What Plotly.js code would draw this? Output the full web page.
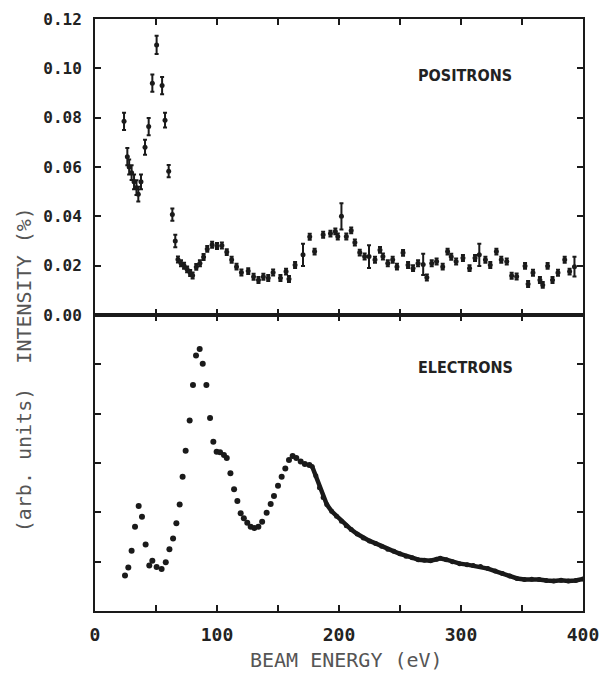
<!DOCTYPE html>
<html>
<head>
<meta charset="utf-8">
<script src="https://cdn.plot.ly/plotly-3.0.1.min.js"></script>
<style>html,body{margin:0;padding:0;background:#fff;}#chart{width:602px;height:677px;}</style>
</head>
<body>
<div id="chart"></div>
<script>
// ---- Positron intensity (%) vs beam energy (eV) ----
const posEnergy = [23.8,26.5,28,30,32,34,35.5,37.7,41,44,47,50.5,55,57.4,60.4,63.4,65.8,
  68,70.5,73,75.5,78,80,83,86,89,92,96,100,104,108,112,116,120,125.6,130,134,138,142,146,152,156.6,159,
  164,170.5,176,180,187,193,197,199,202,206,210,213,217,221,224.6,229.5,233.6,236,240,244,247.5,
  252.5,256.6,260.7,264.8,269,272,276,280,285,289,292,296,301.6,307,311.5,315,320,324,329,333,337.5,
  341.5,345.6,352.5,355,359,364.7,367,371,375,379.5,385,389,393];
const posIntensity = [0.0785,0.0642,0.0600,0.0577,0.0540,0.0516,0.0490,0.0540,0.0680,0.0764,0.0940,0.1095,0.0930,0.0790,0.0583,0.0407,0.0300,
  0.0225,0.0210,0.0200,0.0185,0.0170,0.0160,0.0195,0.0210,0.0235,0.0268,0.0285,0.0280,0.0282,0.0255,0.0224,0.0196,0.0172,0.0178,0.0155,0.0142,0.0155,0.0150,0.0172,0.0150,0.0176,0.0146,
  0.0203,0.0244,0.0317,0.0257,0.0325,0.0330,0.0339,0.0318,0.0400,0.0318,0.0343,0.0294,0.0253,0.0237,0.0237,0.0224,0.0264,0.0237,0.0210,0.0224,0.0196,
  0.0252,0.0203,0.0190,0.0210,0.0205,0.0152,0.0210,0.0217,0.0196,0.0257,0.0236,0.0217,0.0231,0.0190,0.0231,0.0244,0.0224,0.0203,0.0257,0.0224,0.0217,
  0.0159,0.0156,0.0199,0.0126,0.0171,0.0142,0.0122,0.0199,0.0142,0.0171,0.0224,0.0176,0.0196];
const posError = [0.0035,0.0035,0.003,0.003,0.003,0.003,0.003,0.003,0.003,0.0035,0.0035,0.0037,0.0035,0.003,0.0025,0.0025,0.0025,
  0.0012,0.0012,0.0012,0.0012,0.0012,0.0012,0.0012,0.0012,0.0012,0.0012,0.0012,0.0012,0.0012,0.0012,0.0012,0.0012,0.0012,0.0012,0.0012,0.0012,0.0012,0.0012,0.0012,0.0012,0.0012,0.0012,
  0.0012,0.0045,0.0012,0.0012,0.0012,0.0012,0.0012,0.0012,0.0053,0.0012,0.0012,0.0012,0.0012,0.0012,0.0046,0.0012,0.0012,0.0012,0.0012,0.0012,0.0012,
  0.0012,0.0012,0.0012,0.0012,0.0043,0.0012,0.0012,0.0012,0.0012,0.0012,0.0012,0.0012,0.0012,0.0012,0.0012,0.0045,0.0012,0.0012,0.0012,0.0012,0.0012,
  0.0012,0.0012,0.0012,0.0012,0.0012,0.0012,0.0012,0.0012,0.0012,0.0012,0.0012,0.0012,0.0040];

// ---- Electron intensity (arb. units): separated dots ----
const elecEnergy = [24.6,27.3,30,32.8,35.8,38.5,41.5,44.5,47,50.5,54.6,58,61,64,66.7,69.4,71.8,74.3,77.6,80.3,
  82.8,85.8,88.3,91.3,94.3,97,99.7,102.5,105.7,108,111,114,116.7,119.4,122,124.8,127.6,130.6,133.9,137,
  140.7,144,146.7,150,153,156,159,162,165,168.6,172,175.7];
const elecIntensity = [0.72,0.88,1.22,1.71,2.13,1.91,1.35,0.92,1.02,0.89,0.85,0.99,1.25,1.47,1.78,2.16,2.72,3.25,3.86,4.58,
  5.18,5.31,5.01,4.58,3.91,3.43,3.23,3.22,3.16,3.10,2.79,2.47,2.23,1.98,1.88,1.79,1.71,1.68,1.71,1.81,
  1.99,2.17,2.33,2.54,2.72,2.89,3.06,3.14,3.10,3.03,2.98,2.96];
// ---- Electron intensity: dense tail (points merge into a thick trace) ----
const elecTailEnergy = [178,181,184,187,190,194,198,202,206,210,215,220,225,230,235,240,245,250,255,260,265,270,275,280,283,
  288,293,299,305,310,316,322,328,334,340,346,352,358,364,370,376,382,388,394,400];
const elecTailIntensity = [2.93,2.74,2.50,2.30,2.16,2.02,1.92,1.82,1.73,1.65,1.56,1.48,1.42,1.37,1.31,1.25,1.21,1.16,1.11,1.08,1.04,1.03,1.02,1.05,1.07,
  1.04,1.00,0.96,0.94,0.92,0.90,0.86,0.81,0.76,0.71,0.66,0.64,0.645,0.64,0.62,0.61,0.625,0.61,0.62,0.65];

// ---- Ticks ----
const xTickVals = [0,50,100,150,200,250,300,350,400];
const xTickText = ['0','','100','','200','','300','','400'];
const yTickVals = [0,0.02,0.04,0.06,0.08,0.10,0.12];
const yTickText = ['0.00','0.02','0.04','0.06','0.08','0.10','0.12'];
const y2TickVals = [1,2,3,4,5];

const ink = '#1a1a1a';
const traces = [
  {x: posEnergy, y: posIntensity, xaxis:'x', yaxis:'y', type:'scatter', mode:'markers',
   marker:{size:5, color:ink},
   error_y:{type:'data', array: posError, visible:true, color:ink, thickness:2, width:2}},
  {x: elecEnergy, y: elecIntensity, xaxis:'x2', yaxis:'y2', type:'scatter', mode:'markers',
   marker:{size:6, color:ink}},
  {x: elecTailEnergy, y: elecTailIntensity, xaxis:'x2', yaxis:'y2', type:'scatter', mode:'lines+markers',
   line:{color:ink, width:4.5}, marker:{size:5, color:ink}}
];

const axBase = {showline:true, linewidth:2, linecolor:ink, mirror:'ticks', ticks:'inside', ticklen:6,
  tickwidth:2, tickcolor:ink, showgrid:false, zeroline:false, fixedrange:true};
const monoBold = {family:'DejaVu Sans Mono, monospace', size:16, color:'#222', weight:'bold'};
const labelFont = {family:'DejaVu Sans Condensed, DejaVu Sans, sans-serif', size:16, color:'#222', weight:'bold'};
const titleFont = {family:'DejaVu Sans Mono, monospace', size:20, color:'#555'};

const layout = {
  width:602, height:677,
  margin:{l:95, r:19, t:19, b:66},
  paper_bgcolor:'#fff', plot_bgcolor:'#fff',
  showlegend:false,
  xaxis: Object.assign({}, axBase, {domain:[0,1], anchor:'y', range:[0,400], tickmode:'array', tickvals:xTickVals, showticklabels:false}),
  yaxis: Object.assign({}, axBase, {domain:[0.5,1], anchor:'x', range:[0,0.12], tickmode:'array', tickvals:yTickVals, ticktext:yTickText,
    tickfont:monoBold, ticklabelstandoff:8}),
  xaxis2: Object.assign({}, axBase, {domain:[0,1], anchor:'y2', range:[0,400], tickmode:'array', tickvals:xTickVals, ticktext:xTickText,
    tickfont:Object.assign({}, monoBold, {size:18}), ticklabelstandoff:6}),
  yaxis2: Object.assign({}, axBase, {domain:[0,0.5], anchor:'x2', range:[0,6], tickmode:'array', tickvals:y2TickVals, showticklabels:false}),
  annotations:[
    {text:'POSITRONS', xref:'paper', yref:'paper', x:0.758, y:0.905, xanchor:'center', yanchor:'middle', showarrow:false, font:labelFont},
    {text:'ELECTRONS', xref:'paper', yref:'paper', x:0.76, y:0.412, xanchor:'center', yanchor:'middle', showarrow:false, font:labelFont},
    {text:'BEAM ENERGY (eV)', xref:'paper', yref:'paper', x:0.516, y:-0.083, xanchor:'center', yanchor:'middle', showarrow:false, font:titleFont},
    {text:'INTENSITY (%)', xref:'paper', yref:'paper', x:-0.145, y:0.55, xanchor:'center', yanchor:'middle', textangle:-90, showarrow:false, font:titleFont},
    {text:'(arb. units)', xref:'paper', yref:'paper', x:-0.145, y:0.255, xanchor:'center', yanchor:'middle', textangle:-90, showarrow:false, font:titleFont}
  ]
};

Plotly.newPlot('chart', traces, layout, {staticPlot:true, displayModeBar:false});
</script>
</body>
</html>
